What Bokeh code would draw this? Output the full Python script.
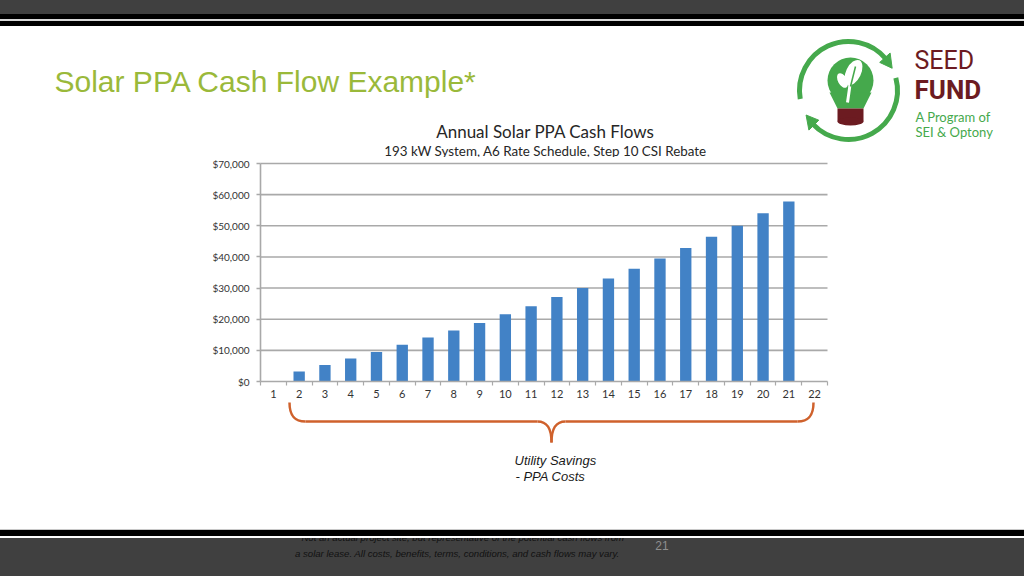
import numpy as np
from bokeh.plotting import figure
from bokeh.models import Range1d, LinearAxis, FixedTicker, NumeralTickFormatter, Div
from bokeh.layouts import column
from bokeh.embed import file_html
from bokeh.resources import INLINE
from bokeh.core.properties import value

# ---------------- data ----------------
years = list(range(1, 23))
cash_flows = [0, 3200, 5300, 7400, 9500, 11800, 14100, 16400, 18800, 21600,
              24200, 27100, 30000, 33100, 36200, 39500, 42900, 46500, 50000,
              54000, 57800, 0]
y_tick_values = [0, 10000, 20000, 30000, 40000, 50000, 60000, 70000]

slide_title = "Solar PPA Cash Flow Example*"
chart_title = "Annual Solar PPA Cash Flows"
chart_subtitle = "193 kW System, A6 Rate Schedule, Step 10 CSI Rebate"
brace_label = ["Utility Savings", "- PPA Costs"]
footnote = ["* Not an actual project site, but representative of the potential cash flows from",
            "a solar lease. All costs, benefits, terms, conditions, and cash flows may vary."]
page_number = "21"
logo_lines = ["SEED", "FUND", "A Program of", "SEI & Optony"]

# ---------------- style ----------------
GREEN_TITLE = "#9ab93a"
LOGO_GREEN = "#45a94c"
LOGO_RED = "#6c1b21"
BAR_COLOR = "#4282c6"
GRID_COLOR = "#a9a9a9"
LABEL_COLOR = "#333333"
BRACE_COLOR = "#cf612c"
DARK = "#404040"

W = 1024
L = 52          # common left border (room for the y-axis labels)
XR = (L, W)     # slide-pixel span of every frame


def Y(v):
    return -v


# ================= header bands (plain HTML block) =================
header = Div(width=W, height=27, margin=0, text=(
    '<div style="width:1024px;height:27px;background:linear-gradient(to bottom,'
    ' #404040 0px, #404040 14px, #000 14px, #000 19px, #d8d8d8 19px, #d8d8d8 21px,'
    ' #000 21px, #000 26.5px, #fff 26.5px);"></div>'))

# ================= title / logo section =================
top = figure(width=W, height=157 - 27,
             x_range=Range1d(*XR), y_range=Range1d(-157, -27),
             output_backend="svg", toolbar_location=None,
             x_axis_location=None, y_axis_location=None,
             min_border_left=L, min_border_right=0, min_border_top=0, min_border_bottom=0,
             outline_line_color=None,
             background_fill_color="white", border_fill_color="white")
for g in list(top.center):
    g.visible = False

top.text(x=[54], y=[Y(81)], text=[slide_title], text_font=value("Liberation Sans"),
         text_font_size="30px", text_color=GREEN_TITLE, text_baseline="middle",
         text_align="left")

top.text(x=[545], y=[Y(131)], text=[chart_title], text_font=value("Lato"),
         text_font_size="17px", text_color="#262626", text_baseline="middle",
         text_align="center")
top.text(x=[545], y=[Y(150)], text=[chart_subtitle], text_font=value("Lato"),
         text_font_size="13.4px", text_color="#262626", text_baseline="middle",
         text_align="center")

# ---- logo ----
cx, cy, r = 848, Y(90), 49
top.arc(x=cx, y=cy, radius=r, start_angle=np.radians(40), end_angle=np.radians(190),
        direction="anticlock", line_color=LOGO_GREEN, line_width=5)
top.arc(x=cx, y=cy, radius=r, start_angle=np.radians(223), end_angle=np.radians(375),
        direction="anticlock", line_color=LOGO_GREEN, line_width=5)


def arrow_head(tip_deg, base_deg):
    t, b = np.radians(tip_deg), np.radians(base_deg)
    xs = [cx + r * np.cos(t), cx + (r + 7) * np.cos(b), cx + (r - 7) * np.cos(b)]
    ys = [cy + r * np.sin(t), cy + (r + 7) * np.sin(b), cy + (r - 7) * np.sin(b)]
    return xs, ys


for tip, base in [(27, 42), (210, 225)]:
    ax, ay = arrow_head(tip, base)
    top.patch(ax, ay, fill_color=LOGO_GREEN, line_color=LOGO_GREEN)

# bulb
top.circle(x=850, y=Y(80), radius=23, fill_color=LOGO_GREEN, line_color=None)
top.patch([829, 871, 863, 837], [Y(92), Y(92), Y(108), Y(108)], fill_color=LOGO_GREEN,
          line_color=None)
top.quad(left=837, right=863, top=Y(108), bottom=Y(121), fill_color=LOGO_RED, line_color=None)
top.ellipse(x=850, y=Y(121), width=26, height=8, fill_color=LOGO_RED, line_color=None)
# leaf
top.ellipse(x=853, y=Y(72), width=15, height=27, angle=-0.45, fill_color="white", line_color=None)
top.ellipse(x=842, y=Y(80), width=9, height=16, angle=0.5, fill_color="white", line_color=None)
top.line([847, 849, 850], [Y(102), Y(88), Y(76)], line_color="white", line_width=3)
top.line([850, 855], [Y(86), Y(66)], line_color=LOGO_GREEN, line_width=1.5)

top.text(x=[914], y=[Y(60)], text=[logo_lines[0]], text_font=value("Roboto"),
         text_font_size="25px", text_color=LOGO_RED, text_baseline="middle")
top.text(x=[914], y=[Y(89)], text=[logo_lines[1]], text_font=value("Roboto"),
         text_font_style="bold", text_font_size="26px", text_color=LOGO_RED,
         text_baseline="middle")
top.text(x=[915], y=[Y(116)], text=[logo_lines[2]], text_font=value("Lato"),
         text_font_size="13px", text_color=LOGO_GREEN, text_baseline="middle")
top.text(x=[915], y=[Y(131)], text=[logo_lines[3]], text_font=value("Lato"),
         text_font_size="13px", text_color=LOGO_GREEN, text_baseline="middle")

# ================= chart section =================
CH_Y0, CH_Y1 = 157, 529
BOT_B = 30
frame_y1 = CH_Y1 - BOT_B
PX0, PX1 = 260, 827     # plot-area edges in slide pixels
PY0, PY1 = 381, 163     # $0 line and top gridline in slide pixels

n = len(years)
kx = n / (PX1 - PX0)
x_start = 0.5 - (PX0 - XR[0]) * kx
x_end = n + 0.5 + (XR[1] - PX1) * kx
ymax = y_tick_values[-1]
ky = ymax / (PY0 - PY1)
y_start = 0 - (frame_y1 - PY0) * ky
y_end = ymax + (PY1 - CH_Y0) * ky

chart = figure(width=W, height=CH_Y1 - CH_Y0,
               x_range=Range1d(x_start, x_end), y_range=Range1d(y_start, y_end),
               output_backend="svg", toolbar_location=None,
               x_axis_location=None, y_axis_location=None,
               min_border_left=L, min_border_bottom=BOT_B,
               min_border_top=0, min_border_right=0,
               outline_line_color=None,
               background_fill_color="white", border_fill_color="white")
for g in list(chart.center):
    g.visible = False
chart.extra_x_ranges = {"slide": Range1d(*XR)}
chart.extra_y_ranges = {"slide": Range1d(-frame_y1, -CH_Y0)}

# gridlines
chart.segment(x0=0.5, x1=n + 0.5, y0=y_tick_values[1:], y1=y_tick_values[1:],
              line_color=GRID_COLOR, line_width=1.6)

# bars
chart.vbar(x=years, top=cash_flows, width=0.44, fill_color=BAR_COLOR, line_color=None)

# axes
yaxis = LinearAxis(fixed_location=0.5, bounds=(0, ymax),
                   ticker=FixedTicker(ticks=y_tick_values, minor_ticks=[]),
                   formatter=NumeralTickFormatter(format="$0,0"))
yaxis.axis_line_color = GRID_COLOR
yaxis.axis_line_width = 1.6
yaxis.major_tick_line_color = GRID_COLOR
yaxis.major_tick_line_width = 1.3
yaxis.major_tick_out = 4
yaxis.major_tick_in = 0
yaxis.minor_tick_line_color = None
yaxis.major_label_standoff = 7
yaxis.major_label_text_font = "Lato"
yaxis.major_label_text_font_size = "10px"
yaxis.major_label_text_color = LABEL_COLOR
chart.add_layout(yaxis, "left")

xaxis = LinearAxis(fixed_location=0, bounds=(0.5, n + 0.5),
                   ticker=FixedTicker(ticks=years, minor_ticks=[i + 0.5 for i in range(n + 1)]))
xaxis.axis_line_color = GRID_COLOR
xaxis.axis_line_width = 1.6
xaxis.major_tick_line_color = None
xaxis.major_tick_out = 0
xaxis.major_tick_in = 0
xaxis.minor_tick_line_color = GRID_COLOR
xaxis.minor_tick_line_width = 1.2
xaxis.minor_tick_out = 4
xaxis.minor_tick_in = 0
xaxis.major_label_standoff = 4
xaxis.major_label_text_font = "Lato"
xaxis.major_label_text_font_size = "11px"
xaxis.major_label_text_color = LABEL_COLOR
chart.add_layout(xaxis, "below")

# curly brace (slide pixel coordinates)
bz = dict(x0=[289, 537, 551, 797], y0=[Y(402), Y(421), Y(442), Y(421)],
          x1=[305, 551, 565, 813], y1=[Y(421), Y(442), Y(421), Y(402)],
          cx0=[289, 547, 551, 809], cy0=[Y(414), Y(421), Y(428), Y(421)],
          cx1=[293, 551, 555, 813], cy1=[Y(421), Y(428), Y(421), Y(414)])
chart.bezier(**bz, line_color=BRACE_COLOR, line_width=2.5,
             x_range_name="slide", y_range_name="slide")
chart.segment(x0=[305, 565], y0=[Y(421), Y(421)], x1=[537, 797], y1=[Y(421), Y(421)],
              line_color=BRACE_COLOR, line_width=2.5,
              x_range_name="slide", y_range_name="slide")

chart.text(x=[514, 515], y=[Y(460), Y(476)], text=brace_label,
           text_font=value("Liberation Sans"), text_font_style="italic",
           text_font_size="13px", text_color="#1a1a1a", text_baseline="middle",
           text_align="left", x_range_name="slide", y_range_name="slide")

# ================= footer (plain HTML block) =================
footer_html = (
    '<div style="position:relative;width:1024px;height:47px;overflow:hidden;'
    'background:#404040;">'
    '<div style="position:absolute;left:295px;top:1px;font-family:\'Liberation Sans\';'
    'font-style:italic;font-size:9.6px;line-height:16px;color:#111;white-space:nowrap;">'
    + footnote[0] + '<br>' + footnote[1] + '</div>'
    '<div style="position:absolute;left:642px;width:40px;top:10px;text-align:center;'
    'font-family:\'Liberation Sans\';font-size:12px;line-height:14px;color:#8f8f8f;">'
    + page_number + '</div>'
    '<div style="position:absolute;left:0;top:0;width:1024px;height:1px;background:#c8c8c8;"></div>'
    '<div style="position:absolute;left:0;top:1px;width:1024px;height:5.5px;background:#000;"></div>'
    '<div style="position:absolute;left:0;top:6.5px;width:1024px;height:2.5px;background:#fff;"></div>'
    '</div>')
footer = Div(width=W, height=47, margin=0, text=footer_html)

layout = column(header, top, chart, footer, spacing=0)
open("out.html", "w").write(file_html(layout, INLINE))
